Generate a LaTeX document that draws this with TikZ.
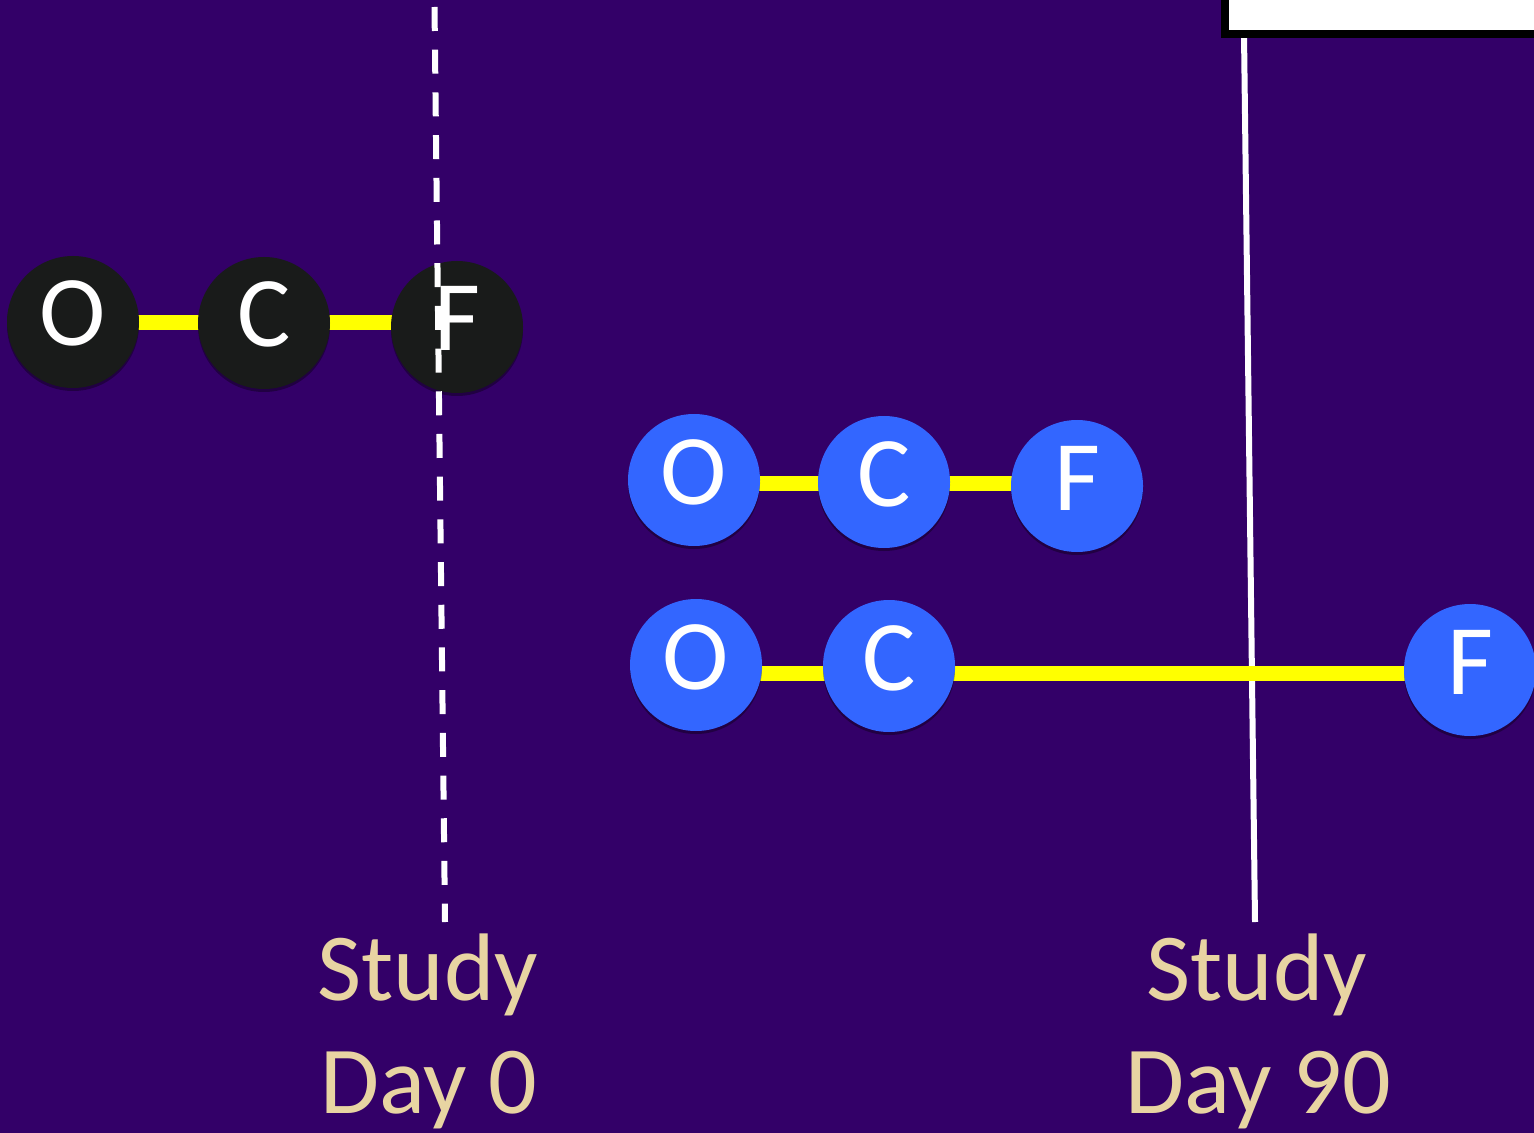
\documentclass[tikz,border=0pt]{standalone}
\usepackage{fontspec}
\setmainfont{Carlito}
\usetikzlibrary{shadows}
\definecolor{bgpurple}{RGB}{51,0,104}
\definecolor{atomblue}{RGB}{51,102,255}
\definecolor{atomdark}{RGB}{25,27,26}
\definecolor{labeltan}{RGB}{232,212,162}
\definecolor{bondyellow}{RGB}{255,255,0}
\pgfdeclarelayer{bg}
\pgfsetlayers{bg,main}
\tikzset{
  atom/.style={circle, minimum size=66pt, inner sep=0pt, text=white,
    font=\fontsize{50}{58}\selectfont, text height=32pt, text depth=8pt,
    drop shadow={shadow xshift=0pt, shadow yshift=-1.5pt, opacity=0.35, fill=black}},
  oldatom/.style={atom, fill=atomdark},
  newatom/.style={atom, fill=atomblue},
  bond/.style={draw=bondyellow, line width=7.5pt},
  dayline/.style={draw=white, line width=3pt},
  daylabel/.style={text=labeltan, font=\fontsize{48}{56}\selectfont, anchor=base, inner sep=0pt}
}
\begin{document}
\begin{tikzpicture}[x=0.5pt, y=-0.5pt]
\clip (0,0) rectangle (1534,1133);
\useasboundingbox (0,0) rectangle (1534,1133);

% molecule before the study window
\node[oldatom] (O0) at (73,322) {O};
\node[oldatom] (C0) at (264,323) {C};
\node[oldatom] (F0) at (457,327) {F};

% molecule inside the window
\node[newatom] (O1) at (694,480) {O};
\node[newatom] (C1) at (884,482) {C};
\node[newatom] (F1) at (1077,486) {F};

% molecule whose last step lands after day 90
\node[newatom] (O2) at (696,665) {O};
\node[newatom] (C2) at (889,666) {C};
\node[newatom] (F2) at (1470,670) {F};

% day 0 marker
\coordinate (d0top) at (434.5,7);
\coordinate (d0bot) at (445,922);
\draw[dayline, dash pattern=on 12pt off 9.35pt] (d0top) -- (d0bot);

% day 90 marker
\coordinate (d90top) at (1244,35);
\coordinate (d90bot) at (1255,922);

% panel in the corner
\node[draw=black, fill=white, line width=4pt, inner sep=0pt, outer sep=0pt,
      anchor=south west, minimum width=200pt, minimum height=40pt] (panel) at (1225,34) {};

% labels
\node[daylabel] (s0) at (428,1000) {Study};
\node[daylabel] (d0) at (429,1113) {Day 0};
\node[daylabel] (s90) at (1257,1000) {Study};
\node[daylabel] (d90) at (1258,1113) {Day 90};

\begin{pgfonlayer}{bg}
  \fill[bgpurple] (0,0) rectangle (1534,1133);
  \draw[dayline] (d90top) -- (d90bot);
  \draw[bond] ([yshift=-0.5pt]O0.center) -- (C0.center);
  \draw[bond] (C0.center) -- ([yshift=2pt]F0.center);
  \draw[bond] ([yshift=-1.5pt]O1.center) -- ([yshift=-0.5pt]C1.center);
  \draw[bond] ([yshift=-0.5pt]C1.center) -- ([yshift=1.5pt]F1.center);
  \draw[bond] ([yshift=-4pt]O2.center) -- ([yshift=-3.5pt]C2.center);
  \draw[bond] ([yshift=-3.5pt]C2.center) -- ([yshift=-1.5pt]F2.center);
\end{pgfonlayer}
\end{tikzpicture}
\end{document}
